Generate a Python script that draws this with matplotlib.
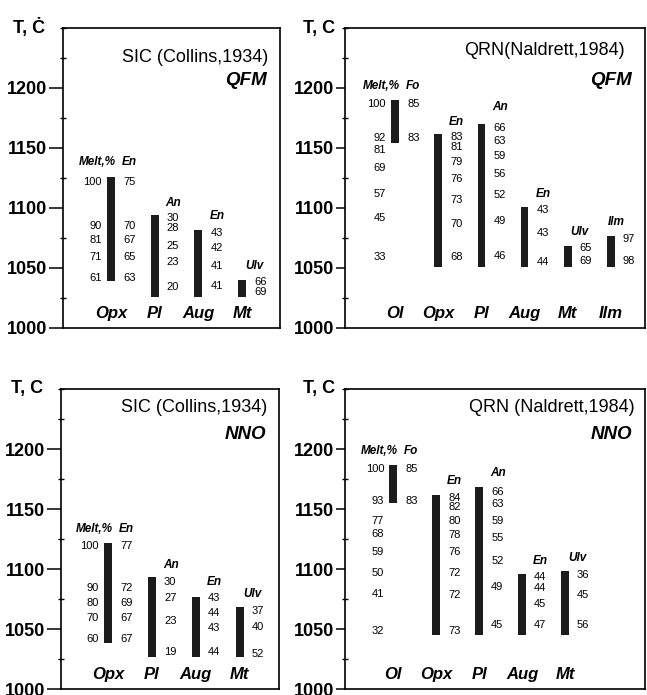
import numpy as np
import matplotlib.pyplot as plt
from matplotlib.ticker import MultipleLocator

plt.rcParams['font.family'] = ['Liberation Sans', 'DejaVu Sans']

################################### Data ##########################################
## SIC (Collins,1934) - QFM
sq_cats   = ['Opx', 'Pl', 'Aug', 'Mt']
sq_top    = [1126, 1094, 1082, 1040]
sq_bot    = [1039, 1026, 1026, 1026]
sq_melt   = [100, 90, 81, 71, 61]
sq_melt_T = [1122, 1085, 1073, 1059, 1042]
sq_comp   = ['En', 'An', 'En', 'Ulv']
sq_vals   = [[75, 70, 67, 65, 63], [30, 28, 25, 23, 20], [43, 42, 41, 41], [66, 69]]
sq_vals_T = [[1122, 1085, 1073, 1059, 1042], [1092, 1083, 1068, 1055, 1034],
             [1079, 1067, 1052, 1035], [1038, 1030]]
sq_head_T = [1138, 1104, 1093, 1052]

## QRN (Naldrett,1984) - QFM
qq_cats   = ['Ol', 'Opx', 'Pl', 'Aug', 'Mt', 'Ilm']
qq_top    = [1190, 1162, 1170, 1101, 1068, 1077]
qq_bot    = [1154, 1051, 1051, 1051, 1051, 1051]
qq_melt   = [100, 92, 81, 69, 57, 45, 33]
qq_melt_T = [1187, 1158, 1148, 1133, 1112, 1092, 1059]
qq_comp   = ['Fo', 'En', 'An', 'En', 'Ulv', 'Ilm']
qq_vals   = [[85, 83], [83, 81, 79, 76, 73, 70, 68], [66, 63, 59, 56, 52, 49, 46],
             [43, 43, 44], [65, 69], [97, 98]]
qq_vals_T = [[1187, 1158], [1159, 1151, 1138, 1124, 1107, 1087, 1059],
             [1167, 1156, 1143, 1128, 1111, 1089, 1060],
             [1098, 1079, 1055], [1067, 1056], [1074, 1056]]
qq_head_T = [1202, 1172, 1184, 1112, 1080, 1088]

## SIC (Collins,1934) - NNO
sn_cats   = ['Opx', 'Pl', 'Aug', 'Mt']
sn_top    = [1122, 1093, 1077, 1068]
sn_bot    = [1038, 1027, 1027, 1027]
sn_melt   = [100, 90, 80, 70, 60]
sn_melt_T = [1119, 1084, 1072, 1059, 1042]
sn_comp   = ['En', 'An', 'En', 'Ulv']
sn_vals   = [[77, 72, 69, 67, 67], [30, 27, 23, 19], [43, 44, 43, 44], [37, 40, 52]]
sn_vals_T = [[1119, 1084, 1072, 1059, 1042], [1089, 1076, 1057, 1031],
             [1076, 1063, 1051, 1031], [1065, 1052, 1029]]
sn_head_T = [1133, 1103, 1089, 1079]

## QRN (Naldrett,1984) - NNO
qn_cats   = ['Ol', 'Opx', 'Pl', 'Aug', 'Mt']
qn_top    = [1187, 1162, 1168, 1096, 1098]
qn_bot    = [1155, 1045, 1045, 1045, 1045]
qn_melt   = [100, 93, 77, 68, 59, 50, 41, 32]
qn_melt_T = [1183, 1157, 1140, 1129, 1114, 1097, 1079, 1048]
qn_comp   = ['Fo', 'En', 'An', 'En', 'Ulv']
qn_vals   = [[85, 83], [84, 82, 80, 78, 76, 72, 72, 73], [66, 63, 59, 55, 52, 49, 45],
             [44, 44, 45, 47], [36, 45, 56]]
qn_vals_T = [[1183, 1157], [1159, 1152, 1140, 1128, 1114, 1097, 1078, 1048],
             [1164, 1154, 1140, 1126, 1107, 1085, 1053],
             [1093, 1084, 1071, 1053], [1095, 1078, 1053]]
qn_head_T = [1198, 1173, 1180, 1107, 1109]


################################### Figura ########################################
W, H = 647, 695
fig = plt.figure(figsize=(W/100, H/100), dpi=100)

def px_axes(l, r, t, b):
    return fig.add_axes([l/W, (H-b)/H, (r-l)/W, (b-t)/H])

# spostamento (pixel) delle intestazioni di alcuni minerali
head_dx = {'Ulv': 3, 'Ilm': -3}

def draw_panel(ax, cats, top, bot, melt, melt_T, comp, vals, vals_T, head_T,
               title, buf, xlim, title_T, buf_T, tlab, title_dx=-12, tlen=10, tlab_dx=-18):
    x = np.arange(len(cats))
    ax.bar(x, np.array(top)-np.array(bot), bottom=bot, width=0.18, color='#1c1c1c')
    ax.set_xlim(*xlim)
    ax.set_ylim(1000, 1250)
    ax.set_xticks([])
    ax.yaxis.set_major_locator(MultipleLocator(50))
    ax.yaxis.set_minor_locator(MultipleLocator(25))
    ax.set_yticks([1000, 1050, 1100, 1150, 1200])
    ax.tick_params(axis='y', which='major', direction='out', length=tlen, width=1.1,
                   labelsize=13, pad=1.5)
    ax.tick_params(axis='y', which='minor', direction='inout', length=5, width=1.0)
    for lab in ax.get_yticklabels():
        lab.set_fontweight('bold')
    for s in ax.spines.values():
        s.set_linewidth(1.2)

    # colonna Melt,%
    for v, t in zip(melt, melt_T):
        ax.annotate(str(v), xy=(0, t), xytext=(-9, 0), textcoords='offset pixels',
                    ha='right', va='center', fontsize=8)
    ax.annotate('Melt,%', xy=(0, head_T[0]), xytext=(5, 0), textcoords='offset pixels',
                ha='right', va='center', fontsize=8.5, fontweight='bold', style='italic')

    # composizioni minerali
    for i in range(len(cats)):
        for v, t in zip(vals[i], vals_T[i]):
            ax.annotate(str(v), xy=(i, t), xytext=(12, 0), textcoords='offset pixels',
                        ha='left', va='center', fontsize=8)
        ax.annotate(comp[i], xy=(i, head_T[i]), xytext=(head_dx.get(comp[i], 11), 0),
                    textcoords='offset pixels', ha='left', va='center', fontsize=8.5,
                    fontweight='bold', style='italic')
        ax.text(i, 1012, cats[i], ha='center', va='center', fontsize=12,
                fontweight='bold', style='italic')

    ax.annotate(title, xy=(1, title_T), xycoords=('axes fraction', 'data'),
                xytext=(title_dx, 0), textcoords='offset pixels',
                ha='right', va='center', fontsize=13)
    ax.annotate(buf, xy=(1, buf_T), xycoords=('axes fraction', 'data'),
                xytext=(-13, 0), textcoords='offset pixels',
                ha='right', va='center', fontsize=13.5, fontweight='bold', style='italic')
    ax.annotate(tlab, xy=(0, 1), xycoords='axes fraction', xytext=(tlab_dx, 0),
                textcoords='offset pixels', ha='right', va='center',
                fontsize=13, fontweight='bold')


ax1 = px_axes(63, 280, 28, 328)
draw_panel(ax1, sq_cats, sq_top, sq_bot, sq_melt, sq_melt_T, sq_comp, sq_vals, sq_vals_T,
           sq_head_T, 'SIC (Collins,1934)', 'QFM', (-1.1, 3.87), 1225, 1206, 'T, Ċ')

ax2 = px_axes(345, 645, 28, 328)
draw_panel(ax2, qq_cats, qq_top, qq_bot, qq_melt, qq_melt_T, qq_comp, qq_vals, qq_vals_T,
           qq_head_T, 'QRN(Naldrett,1984)', 'QFM', (-1.16, 5.79), 1231, 1206, 'T, C',
           title_dx=-20, tlen=6.5, tlab_dx=-10)

ax3 = px_axes(61, 279, 389, 689)
draw_panel(ax3, sn_cats, sn_top, sn_bot, sn_melt, sn_melt_T, sn_comp, sn_vals, sn_vals_T,
           sn_head_T, 'SIC (Collins,1934)', 'NNO', (-1.07, 3.89), 1235, 1212, 'T, C')

ax4 = px_axes(345, 645, 389, 689)
draw_panel(ax4, qn_cats, qn_top, qn_bot, qn_melt, qn_melt_T, qn_comp, qn_vals, qn_vals_T,
           qn_head_T, 'QRN (Naldrett,1984)', 'NNO', (-1.12, 5.86), 1235, 1212, 'T, C',
           title_dx=-10, tlen=6.5, tlab_dx=-10)

plt.savefig('out.png', dpi=100)
